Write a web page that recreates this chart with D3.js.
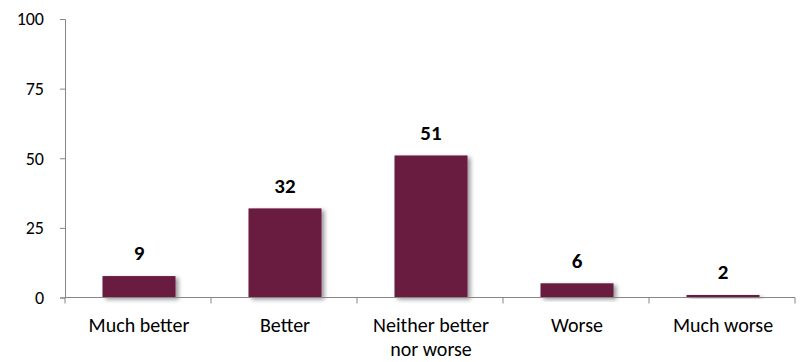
<!DOCTYPE html>
<html>
<head>
<meta charset="utf-8">
<script src="https://cdn.jsdelivr.net/npm/d3@7"></script>
<style>
  body { margin: 0; background: white; }
  text { font-family: Carlito, Calibri, Lato, sans-serif; }
</style>
</head>
<body>
<div id="visualization"></div>
<script>
let w = 800;
let h = 362;

// data
let categories = [["Much better"], ["Better"], ["Neither better", "nor worse"], ["Worse"], ["Much worse"]];
let values = [7.7, 32, 51, 5.1, 0.9];   // bar heights as drawn
let labelText = ["9", "32", "51", "6", "2"]; // labels printed above the bars
let yTicks = [0, 25, 50, 75, 100];

let plotLeft = 65, plotRight = 795, plotTop = 19, plotBottom = 297.5;

let viz = d3.select("#visualization")
  .append("svg")
  .attr("width", w)
  .attr("height", h);

// shadow for bars
let defs = viz.append("defs");
defs.append("filter")
  .attr("id", "shadow")
  .attr("x", "-20%").attr("y", "-20%")
  .attr("width", "150%").attr("height", "150%")
  .append("feDropShadow")
  .attr("dx", 3).attr("dy", 2)
  .attr("stdDeviation", 2)
  .attr("flood-color", "#000")
  .attr("flood-opacity", 0.4);

let xScale = d3.scaleBand()
  .domain(d3.range(categories.length))
  .range([plotLeft + 1, plotRight + 1])
  .paddingInner(0.5)
  .paddingOuter(0.25);

let yScale = d3.scaleLinear().domain([0, 100]).range([plotBottom, plotTop]);

// y axis
let yAxis = d3.axisLeft(yScale).tickValues(yTicks).tickSize(5).tickPadding(16);
let yAxisGroup = viz.append("g")
  .attr("transform", `translate(${plotLeft},0)`)
  .call(yAxis);
yAxisGroup.select(".domain").attr("stroke", "#868686");
yAxisGroup.selectAll(".tick line").attr("stroke", "#868686");
yAxisGroup.selectAll(".tick text")
  .attr("fill", "#000")
  .style("font-size", "18px");

// bars
viz.selectAll(".bar").data(values).enter()
  .append("rect")
  .attr("class", "bar")
  .attr("x", (d, i) => xScale(i))
  .attr("y", d => yScale(d))
  .attr("width", xScale.bandwidth())
  .attr("height", d => plotBottom - yScale(d))
  .attr("fill", "#6a1b41")
  .attr("filter", "url(#shadow)");

// x axis line with ticks at category borders
let step = (plotRight - plotLeft) / categories.length;
let xAxisGroup = viz.append("g");
xAxisGroup.append("line")
  .attr("x1", plotLeft).attr("x2", plotRight)
  .attr("y1", plotBottom).attr("y2", plotBottom)
  .attr("stroke", "#868686");
xAxisGroup.selectAll(".xtick").data(d3.range(categories.length + 1)).enter()
  .append("line")
  .attr("class", "xtick")
  .attr("x1", i => plotLeft + i * step).attr("x2", i => plotLeft + i * step)
  .attr("y1", plotBottom).attr("y2", plotBottom + 6)
  .attr("stroke", "#868686");

// category labels
let catLabels = viz.selectAll(".cat").data(categories).enter()
  .append("text")
  .attr("class", "cat")
  .attr("text-anchor", "middle")
  .style("font-size", "20px")
  .attr("fill", "#000");
catLabels.selectAll("tspan").data((d, i) => d.map(t => ({ t: t, i: i }))).enter()
  .append("tspan")
  .attr("x", d => xScale(d.i) + xScale.bandwidth() / 2)
  .attr("y", (d, j) => 332 + j * 24)
  .text(d => d.t);

// value labels
viz.selectAll(".vlabel").data(values).enter()
  .append("text")
  .attr("class", "vlabel")
  .attr("x", (d, i) => xScale(i) + xScale.bandwidth() / 2)
  .attr("y", d => yScale(d) - 23)
  .attr("dy", "0.35em")
  .attr("text-anchor", "middle")
  .style("font-size", "21px")
  .style("font-weight", "bold")
  .attr("fill", "#000")
  .text((d, i) => labelText[i]);
</script>
</body>
</html>
